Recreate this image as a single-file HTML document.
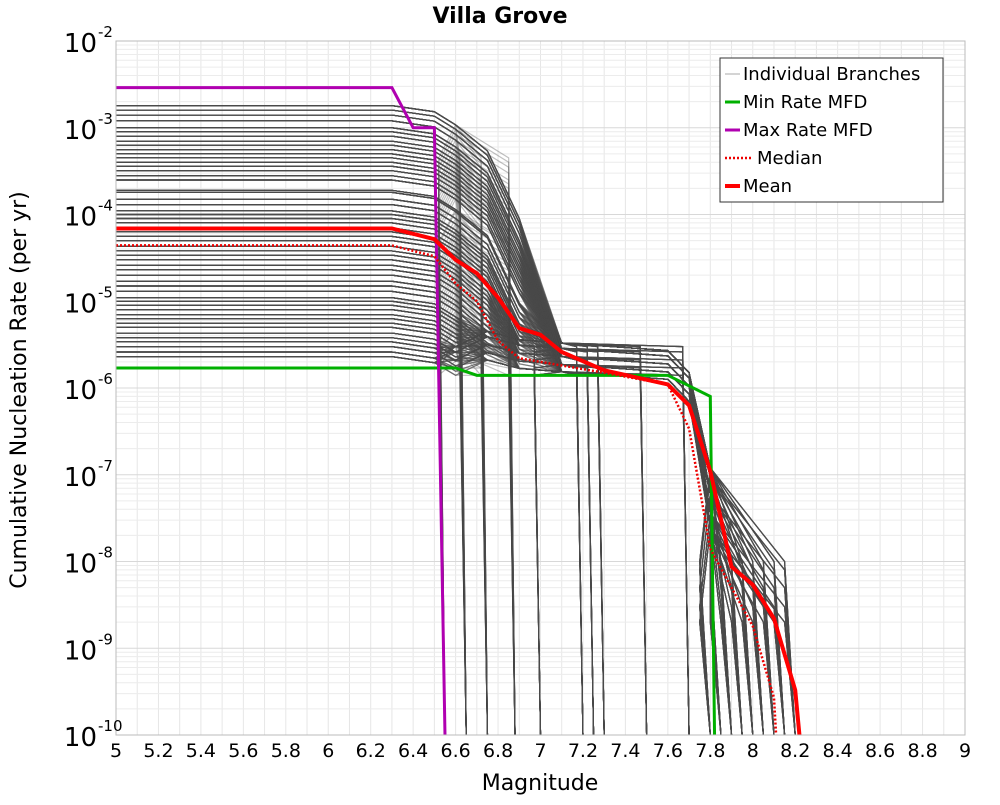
<!DOCTYPE html>
<html><head><meta charset="utf-8"><style>
body{margin:0;background:#fff;font-family:"Liberation Sans","DejaVu Sans",sans-serif}
svg text{font-family:"DejaVu Sans","Liberation Sans",sans-serif}
</style></head><body>
<svg id="chart" width="1000" height="800" xmlns="http://www.w3.org/2000/svg">
<text x="500" y="23" text-anchor="middle" font-size="22" font-weight="bold">Villa Grove</text>
<g id="grid"></g><g id="branches"></g><g id="series"></g><g id="axes"></g>
<text x="540" y="790" text-anchor="middle" font-size="22">Magnitude</text>
<text transform="translate(26,390) rotate(-90)" text-anchor="middle" font-size="22">Cumulative Nucleation Rate (per yr)</text>
<g>
<rect x="720" y="58" width="223" height="144" fill="#fff" stroke="#333" stroke-width="1"/>
<g><line x1="725" y1="74" x2="740" y2="74" stroke="#aaa" stroke-width="1"/><text x="743" y="80" font-size="18">Individual Branches</text></g>
<g><line x1="725" y1="102" x2="740" y2="102" stroke="#00b000" stroke-width="3"/><text x="743" y="108" font-size="18">Min Rate MFD</text></g>
<g><line x1="725" y1="130" x2="740" y2="130" stroke="#b000b0" stroke-width="3"/><text x="743" y="136" font-size="18">Max Rate MFD</text></g>
<g><line x1="725" y1="158" x2="752" y2="158" stroke="#e00" stroke-width="2.5" stroke-dasharray="2,2"/><text x="757" y="164" font-size="18">Median</text></g>
<g><line x1="725" y1="186" x2="740" y2="186" stroke="#f00" stroke-width="4"/><text x="743" y="192" font-size="18">Mean</text></g>
</g>
</svg>
<script>
const xTicks=[5,5.2,5.4,5.6,5.8,6,6.2,6.4,6.6,6.8,7,7.2,7.4,7.6,7.8,8,8.2,8.4,8.6,8.8,9];
const yExps=[-2,-3,-4,-5,-6,-7,-8,-9,-10];
const minMags=[5,6.6,6.7,7.6,7.8,7.82];
const minRates=[1.7e-6,1.7e-6,1.4e-6,1.4e-6,8e-7,1e-10];
const maxMags=[5,6.3,6.4,6.5,6.55];
const maxRates=[2.9e-3,2.9e-3,1e-3,1e-3,1e-10];
const meanMags=[5,6.3,6.5,6.6,6.7,6.8,6.9,7.0,7.1,7.3,7.6,7.7,7.8,7.9,8.0,8.1,8.2,8.22];
const meanRates=[6.9e-5,6.9e-5,5.2e-5,3.0e-5,2.1e-5,1.1e-5,4.9e-6,4.1e-6,2.6e-6,1.6e-6,1.1e-6,6.3e-7,1.1e-7,8.7e-9,5.4e-9,2.2e-9,3.3e-10,1e-10];
const medMags=[5,6.3,6.5,6.6,6.7,6.8,6.9,7.0,7.3,7.6,7.7,7.8,7.9,8.0,8.1,8.11];
const medRates=[4.4e-5,4.4e-5,3.3e-5,1.6e-5,1.0e-5,3.5e-6,2.2e-6,2.0e-6,1.5e-6,1.1e-6,3.4e-7,1.4e-8,5e-9,1.8e-9,2.7e-10,1e-10];
const branchLevels=[2.3e-6,2.6e-6,3e-6,3.4e-6,3.8e-6,4.3e-6,5e-6,5.6e-6,6.3e-6,7e-6,8e-6,9e-6,1e-5,1.1e-5,1.3e-5,1.5e-5,1.7e-5,2e-5,2.3e-5,2.6e-5,3e-5,3.4e-5,3.8e-5,4.3e-5,5e-5,5.6e-5,6.3e-5,7e-5,8e-5,9e-5,1e-4,1.1e-4,1.3e-4,1.5e-4,1.8e-4,1.9e-4,2.5e-4,2.8e-4,3.2e-4,3.6e-4,4e-4,4.5e-4,5e-4,5.6e-4,6.3e-4,7e-4,8e-4,9e-4,1e-3,1.2e-3,1.4e-3,1.6e-3,1.8e-3];
const branchCutoffs=[6.55,6.65,6.75,6.88,7.0,7.2,7.25,7.3,7.5,7.7,7.8,7.85,7.9,7.95,8.0,8.05,8.1,8.15,8.2];
const branchMid=[2.6e-6,2.1e-6,1.7e-6,1.4e-6,3e-6];
const branchTail=[5e-9,1e-8,2e-9,8e-9,3e-9];
const X0=116,X1=965,Y0=41,Y1=735;
const xs=m=>X0+(m-5)/4*(X1-X0);
const ys=v=>Y0+(-2-Math.log10(v))/8*(Y1-Y0);
const NS="http://www.w3.org/2000/svg";
function mk(t,a,p){const e=document.createElementNS(NS,t);for(const k in a)e.setAttribute(k,a[k]);p.appendChild(e);return e;}
const grid=document.getElementById('grid'),axes=document.getElementById('axes');
for(let m=5;m<=9.001;m+=0.1){const l=mk('line',{x1:xs(m),x2:xs(m),y1:Y0,y2:Y1,stroke:'#e6e6e6','stroke-width':1},grid);

}
yExps.forEach(e=>{for(let k=1;k<=9;k++){const v=k*Math.pow(10,e);if(v>1e-2+1e-12)continue;const l=mk('line',{x1:X0,x2:X1,y1:ys(v),y2:ys(v),stroke:k==1?'#d8d8d8':'#ececec','stroke-width':1},grid);

}});
const br=document.getElementById('branches');
branchLevels.forEach((L,i)=>{branchCutoffs.forEach((c,j)=>{
 const mid=branchMid[(i+j)%5],tail=branchTail[(i*2+j)%5];
 let pts=[[5,L],[6.3,L],[6.5,L*0.85]];
 pts.push([6.6,Math.max(L*0.6,mid)]);
 if(c<7){pts.push([c-0.03,Math.max(L*0.25,mid)]);pts.push([c,1e-10]);}
 else{pts.push([6.75,Math.max(L*0.3,mid*1.5)]);pts.push([6.9,Math.max(L*0.05,mid*1.2)]);pts.push([7.1,mid*1.1]);
  if(c<7.75){pts.push([c-0.03,mid]);pts.push([c,1e-10]);}
  else{pts.push([7.6,mid*0.9]);pts.push([7.7,mid*0.5]);pts.push([7.8,tail*12]);pts.push([c-0.05,tail]);pts.push([c,1e-10]);}}
 const p=mk('polyline',{points:pts.map(q=>xs(q[0])+','+ys(q[1])).join(' '),fill:'none',stroke:'rgba(75,75,75,0.35)','stroke-width':1.2},br);
 
 
});});
const ser=document.getElementById('series');
function line(ms,rs,col,w,dash,name){const p=mk('polyline',{points:ms.map((m,i)=>xs(m)+','+ys(rs[i])).join(' '),fill:'none',stroke:col,'stroke-width':w,'stroke-dasharray':dash||'none'},ser);

}
line(minMags,minRates,'#00b000',3,null,'min-rate-line');
line(maxMags,maxRates,'#b000b0',3,null,'max-rate-line');
line(medMags,medRates,'#e00',2.5,'2,2','median-line');
line(meanMags,meanRates,'#f00',4,null,'mean-line');
const fr=mk('rect',{x:X0,y:Y0,width:X1-X0,height:Y1-Y0,fill:'none',stroke:'#bbb'},axes);


xTicks.forEach(m=>{const t=mk('text',{x:xs(m),y:757,'text-anchor':'middle','font-size':19},axes);t.textContent=String(m);

});
yExps.forEach(e=>{const t=mk('text',{x:97,y:ys(Math.pow(10,e))+11,'text-anchor':'end','font-size':26},axes);t.textContent='10';


const s=mk('text',{x:98,y:ys(Math.pow(10,e))-4,'font-size':15},axes);s.textContent=String(e);

});
</script>
</body></html>
